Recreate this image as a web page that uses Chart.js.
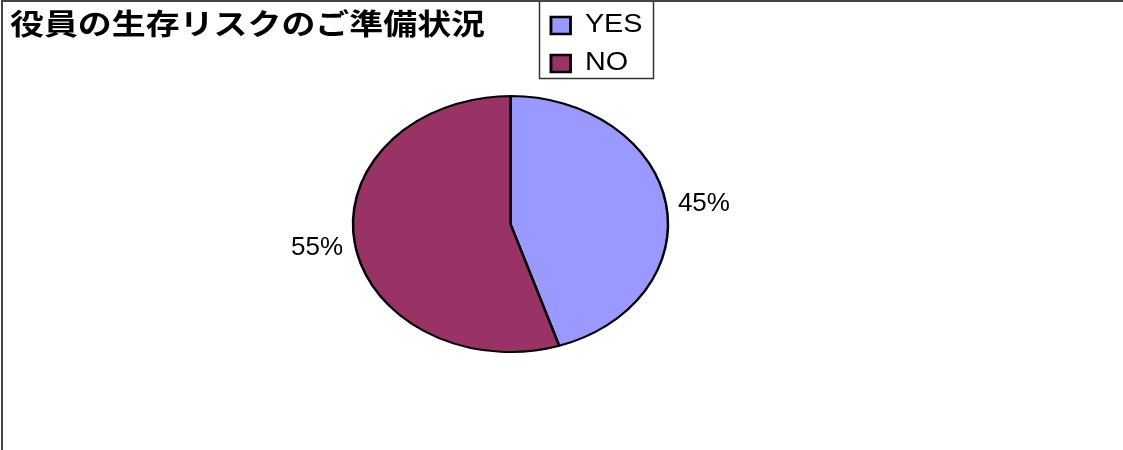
<!DOCTYPE html>
<html>
<head>
<meta charset="utf-8">
<script src="https://cdn.jsdelivr.net/npm/chart.js@4.4.1/dist/chart.umd.min.js"></script>
<style>
  html, body {
    margin: 0;
    padding: 0;
    background: #fff;
  }
  .wrap {
    position: relative;
    width: 1123px;
    height: 450px;
  }
  .frame {
    position: absolute;
    left: 1px;
    top: 0;
    width: 1122px;
    height: 450px;
    box-sizing: border-box;
    border-top: 2px solid #444;
    border-left: 2px solid #444;
    pointer-events: none;
  }
</style>
</head>
<body>
<div class="wrap">
  <canvas id="chart"></canvas>
  <div class="frame"></div>
</div>
<script>
// chart data
const titleText = '役員の生存リスクのご準備状況';
const categories = ['YES', 'NO'];
const values = [45, 55];
const sliceColors = ['#9999FF', '#993366'];

// pie is drawn squashed into an ellipse like the original
const SQUASH = 128 / 157.5;
const LABEL_GAP = 12;

const total = values.reduce((a, b) => a + b, 0);

// wrap a layout box's draw and stretch it sideways from its left edge
function stretchBox(box, sx) {
  const draw = box.draw.bind(box);
  box.draw = (area) => {
    const ctx = box.ctx;
    ctx.save();
    ctx.translate(box.left, 0);
    ctx.scale(sx, 1);
    ctx.translate(-box.left, 0);
    draw(area);
    ctx.restore();
  };
}

// the original text is wider than the fonts give
const textStretch = {
  id: 'textStretch',
  afterInit(chart) {
    stretchBox(chart.titleBlock, 1.17);
    stretchBox(chart.legend, 1.15);
  }
};

// put the legend next to the title, in a framed box
const legendBox = {
  id: 'legendBox',
  afterLayout(chart) {
    const lg = chart.legend;
    const w = lg.width, h = lg.height;
    lg.left = 536;
    lg.top = 0;
    lg.right = lg.left + w;
    lg.bottom = lg.top + h;
  },
  afterDraw(chart) {
    const ctx = chart.ctx;
    ctx.save();
    ctx.strokeStyle = '#333';
    ctx.lineWidth = 1.5;
    ctx.strokeRect(539.5, 0.5, 114, 78);
    ctx.restore();
  }
};

// squash the pie and draw the percent labels outside it
const ellipsePie = {
  id: 'ellipsePie',
  beforeDatasetsDraw(chart) {
    const arc = chart.getDatasetMeta(0).data[0];
    const ctx = chart.ctx;
    ctx.save();
    ctx.translate(arc.x, arc.y);
    ctx.scale(1, SQUASH);
    ctx.translate(-arc.x, -arc.y);
  },
  afterDatasetsDraw(chart) {
    const ctx = chart.ctx;
    ctx.restore();

    ctx.save();
    ctx.font = '26px "Liberation Sans", Arial, sans-serif';
    ctx.fillStyle = '#000';
    ctx.textBaseline = 'middle';
    chart.getDatasetMeta(0).data.forEach((arc, i) => {
      const p = arc.getProps(['x', 'y', 'startAngle', 'endAngle', 'outerRadius'], true);
      const mid = (p.startAngle + p.endAngle) / 2;
      const cos = Math.cos(mid), sin = Math.sin(mid);
      const x = p.x + (p.outerRadius + LABEL_GAP) * cos;
      const y = p.y + (p.outerRadius * SQUASH + LABEL_GAP) * sin + 2;
      ctx.textAlign = cos >= 0 ? 'left' : 'right';
      ctx.fillText(Math.round(values[i] / total * 100) + '%', x, y);
    });
    ctx.restore();
  }
};

new Chart(document.getElementById('chart'), {
  type: 'pie',
  data: {
    labels: categories,
    datasets: [{
      data: values,
      backgroundColor: sliceColors,
      borderColor: '#000',
      borderWidth: 2.5,
    }]
  },
  options: {
    responsive: true,
    maintainAspectRatio: false,
    animation: false,
    events: [],
    radius: 157.5,
    layout: {
      padding: { left: 10, right: 112, top: 0, bottom: 43.6 }
    },
    plugins: {
      title: {
        display: true,
        text: titleText,
        align: 'start',
        color: '#000',
        padding: { top: 7, bottom: 0 },
        font: { family: '"Noto Sans CJK JP", sans-serif', size: 29, weight: 'bold', lineHeight: 1.2 }
      },
      legend: {
        position: 'chartArea',
        align: 'start',
        labels: {
          color: '#000',
          boxWidth: 17,
          boxHeight: 17,
          padding: 13,
          font: { family: '"Liberation Sans", Arial, sans-serif', size: 25 }
        }
      },
      tooltip: { enabled: false }
    }
  },
  plugins: [textStretch, legendBox, ellipsePie]
});
</script>
</body>
</html>
